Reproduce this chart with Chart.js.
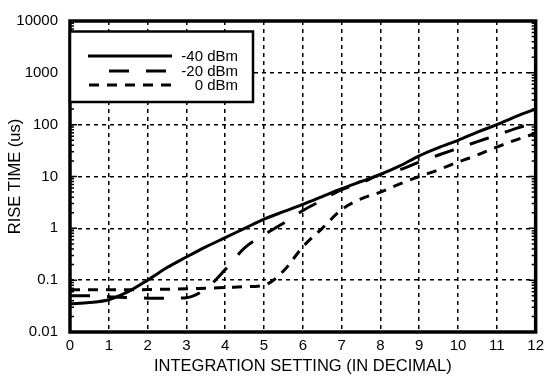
<!DOCTYPE html>
<html>
<head>
<meta charset="utf-8">
<script src="https://cdn.jsdelivr.net/npm/chart.js@4/dist/chart.umd.min.js"></script>
<style>
    html, body { margin: 0; padding: 0; background: #fff; }
</style>
</head>
<body>
<canvas id="riseTime" width="549" height="385"></canvas>
<script>
// Integration setting (x) and rise time in us (y)
const settings = [0, 0.5, 1, 1.5, 2, 2.5, 3, 3.5, 4, 4.5, 5, 5.5, 6, 6.5, 7, 7.5, 8, 8.5, 9, 9.5, 10, 10.5, 11, 11.5, 12];
const riseMinus40 = [0.035, 0.037, 0.042, 0.06, 0.10, 0.175, 0.28, 0.44, 0.66, 1.0, 1.5, 2.1, 2.9, 4.1, 5.8, 8.0, 11, 16, 25, 36, 50, 72, 100, 145, 200];
const riseMinus20 = [0.05, 0.05, 0.048, 0.046, 0.045, 0.045, 0.046, 0.068, 0.16, 0.42, 0.75, 1.25, 2.2, 3.5, 5.6, 7.5, 11, 13.5, 19, 26, 35, 47, 63, 85, 110];
const rise0 = [0.065, 0.065, 0.065, 0.065, 0.066, 0.067, 0.068, 0.07, 0.072, 0.075, 0.08, 0.15, 0.44, 1.0, 2.3, 3.7, 5.0, 7.2, 10, 13.5, 19, 26, 37, 51, 68];
const seriesNames = ['-40 dBm', '-20 dBm', '0 dBm'];
const xTicks = [0, 1, 2, 3, 4, 5, 6, 7, 8, 9, 10, 11, 12];
const yTicks = [0.01, 0.1, 1, 10, 100, 1000, 10000];

const FONT = '"Liberation Sans", Arial, Helvetica, sans-serif';

const toPoints = values => values.map((v, i) => ({ x: settings[i], y: v }));

// frame, inner minor ticks and the boxed legend
const framePlugin = {
    id: 'frame',
    afterDraw(chart) {
        const { ctx, chartArea: a, scales } = chart;
        const y = scales.y;
        ctx.save();
        ctx.strokeStyle = '#000';

        // minor / major ticks inside left and right edges
        ctx.lineWidth = 1.5;
        for (let d = -2; d <= 3; d++) {
            for (let k = 1; k <= 9; k++) {
                const py = y.getPixelForValue(k * Math.pow(10, d));
                const len = k === 1 ? 7 : 4;
                ctx.beginPath();
                ctx.moveTo(a.left, py);
                ctx.lineTo(a.left + len, py);
                ctx.moveTo(a.right, py);
                ctx.lineTo(a.right - len, py);
                ctx.stroke();
            }
        }

        ctx.lineWidth = 3.5;
        ctx.strokeRect(a.left, a.top, a.right - a.left, a.bottom - a.top);

        // legend box
        const box = { left: a.left, top: 31.5, right: 253, bottom: 102 };
        ctx.fillStyle = '#fff';
        ctx.fillRect(box.left, box.top, box.right - box.left, box.bottom - box.top);
        ctx.lineWidth = 2.5;
        ctx.strokeRect(box.left, box.top, box.right - box.left, box.bottom - box.top);

        const rows = [56, 71, 85];
        const starts = [88, 109, 89];
        ctx.font = '15px ' + FONT;
        ctx.textAlign = 'right';
        ctx.textBaseline = 'middle';
        chart.data.datasets.forEach((ds, i) => {
            ctx.beginPath();
            ctx.lineWidth = ds.borderWidth;
            ctx.setLineDash(ds.borderDash || []);
            ctx.moveTo(starts[i], rows[i]);
            ctx.lineTo(172, rows[i]);
            ctx.stroke();
            ctx.setLineDash([]);
            ctx.fillStyle = '#000';
            ctx.fillText(ds.label, 238, rows[i] + 1);
        });
        ctx.restore();
    }
};

new Chart(document.getElementById('riseTime'), {
    type: 'line',
    data: {
        datasets: [{
            label: seriesNames[0],
            data: toPoints(riseMinus40),
            borderColor: '#000',
            borderWidth: 3,
            borderDash: []
        }, {
            label: seriesNames[1],
            data: toPoints(riseMinus20),
            borderColor: '#000',
            borderWidth: 3,
            borderDash: [20, 17]
        }, {
            label: seriesNames[2],
            data: toPoints(rise0),
            borderColor: '#000',
            borderWidth: 3,
            borderDash: [10, 8]
        }]
    },
    options: {
        responsive: false,
        animation: false,
        events: [],
        cubicInterpolationMode: 'monotone',
        elements: { point: { radius: 0 } },
        layout: { padding: { left: 0, top: 16, right: 9, bottom: 0 } },
        plugins: { legend: { display: false }, tooltip: { enabled: false } },
        scales: {
            x: {
                type: 'linear',
                min: 0,
                max: 12,
                afterBuildTicks: scale => { scale.ticks = xTicks.map(v => ({ value: v })); },
                afterFit: scale => { scale.height = 53; },
                grid: { color: '#000', lineWidth: 1.5, drawTicks: false },
                border: { display: false, dash: [4, 4] },
                ticks: { color: '#000', padding: 5, maxRotation: 0, font: { family: FONT, size: 15 } },
                title: {
                    display: true,
                    text: 'INTEGRATION SETTING (IN DECIMAL)',
                    color: '#000',
                    font: { family: FONT, size: 16.5 },
                    padding: { top: 0, bottom: 9 }
                }
            },
            y: {
                type: 'logarithmic',
                min: 0.01,
                max: 10000,
                afterBuildTicks: scale => { scale.ticks = yTicks.map(v => ({ value: v })); },
                afterFit: scale => { scale.width = 70; },
                grid: { color: '#000', lineWidth: 1.5, drawTicks: false },
                border: { display: false, dash: [4, 4] },
                ticks: {
                    color: '#000',
                    padding: 12,
                    font: { family: FONT, size: 15 },
                    callback: value => String(value)
                },
                title: {
                    display: true,
                    text: 'RISE TIME (us)',
                    color: '#000',
                    font: { family: FONT, size: 16.5 },
                    padding: { top: 6, bottom: 0 }
                }
            }
        }
    },
    plugins: [framePlugin]
});
</script>
</body>
</html>
